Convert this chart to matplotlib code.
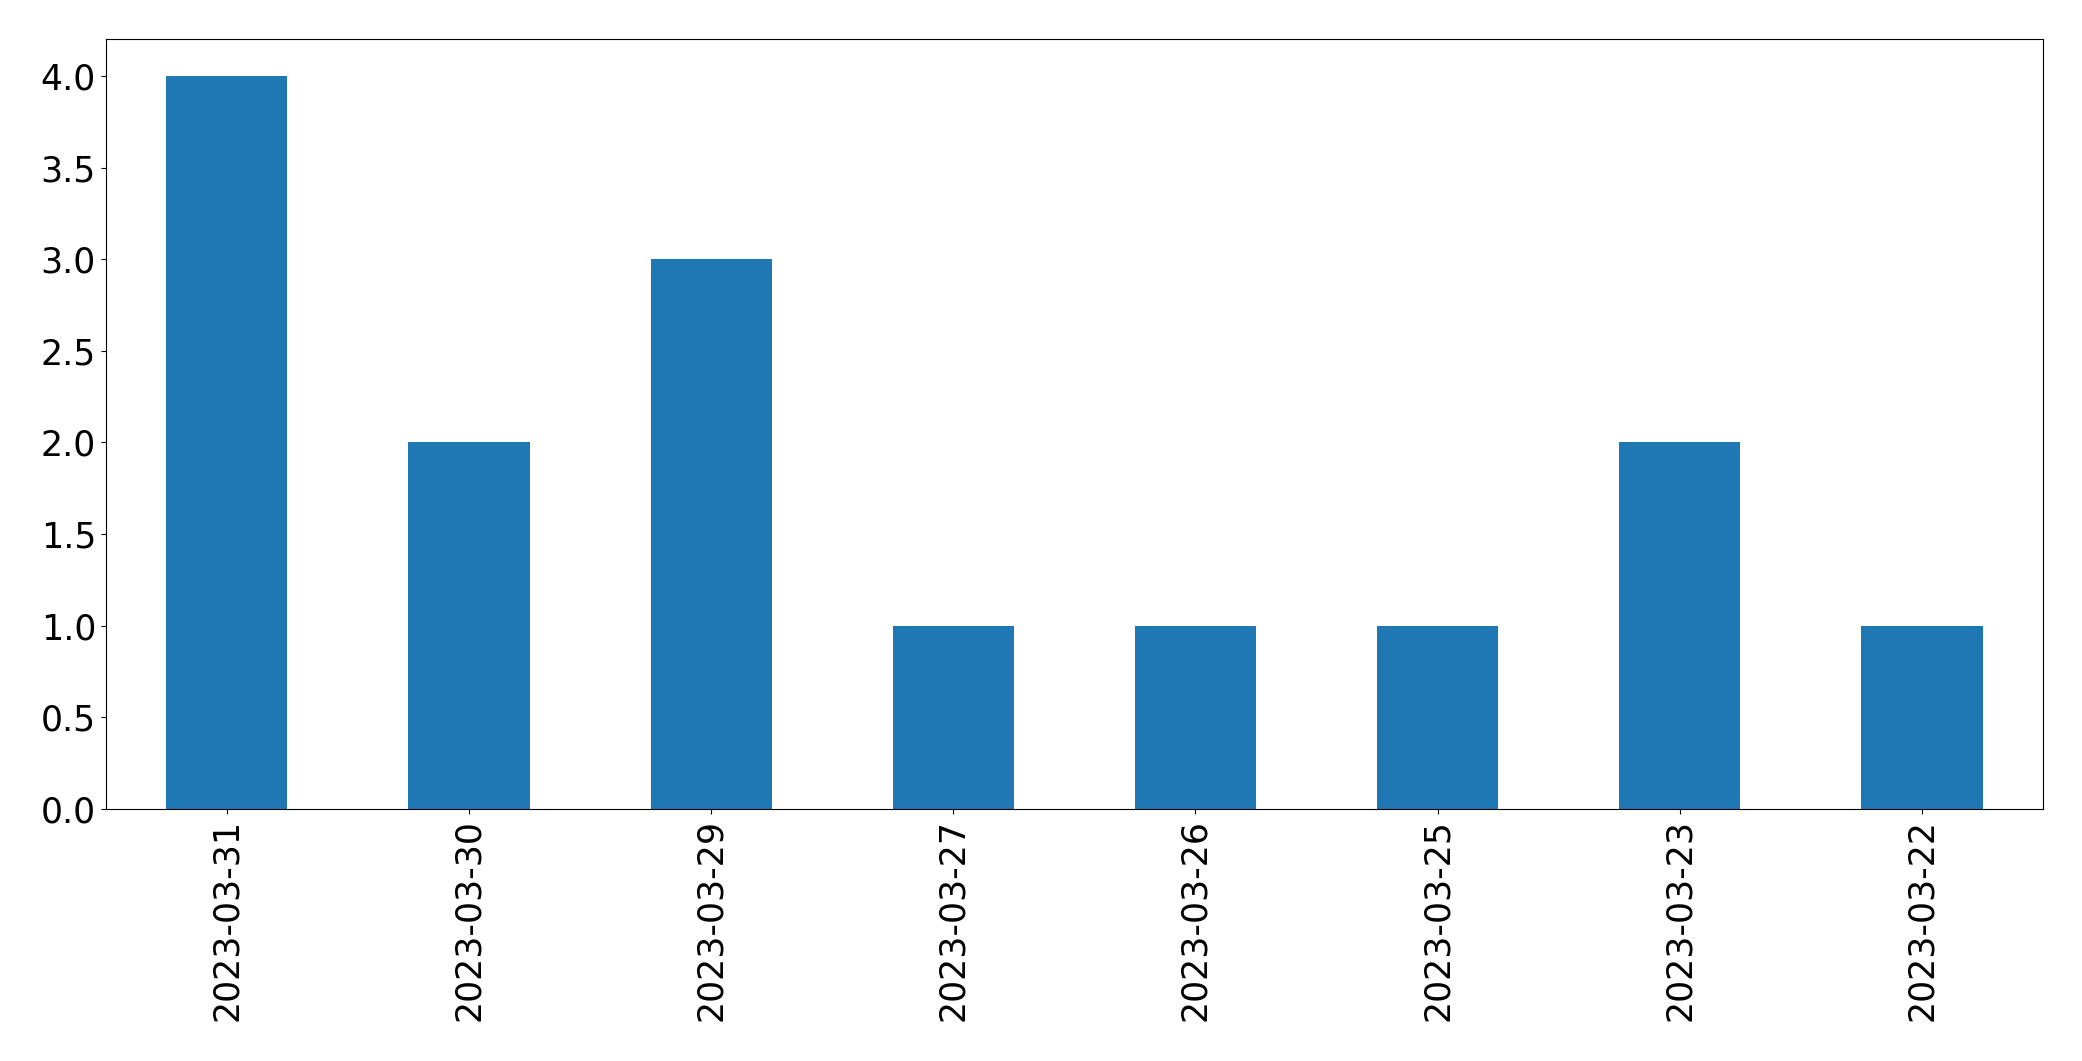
import matplotlib
matplotlib.use("Agg")
import matplotlib.pyplot as plt

dates = ["2023-03-31", "2023-03-30", "2023-03-29", "2023-03-27",
         "2023-03-26", "2023-03-25", "2023-03-23", "2023-03-22"]
counts = [4, 2, 3, 1, 1, 1, 2, 1]

fig, ax = plt.subplots(figsize=(20.82, 10.61), dpi=100)
fig.subplots_adjust(left=0.0508, right=0.9813, bottom=0.2375, top=0.963)

x = range(len(dates))
ax.bar(x, counts, width=0.5, color="#1f77b4")
ax.set_xticks(list(x))
ax.set_xticklabels(dates, rotation=90)
ax.set_xlim(-0.5, len(dates) - 0.5)
ax.set_ylim(0, 4.2)
ax.tick_params(labelsize=25)

fig.savefig("out.png", dpi=100)
